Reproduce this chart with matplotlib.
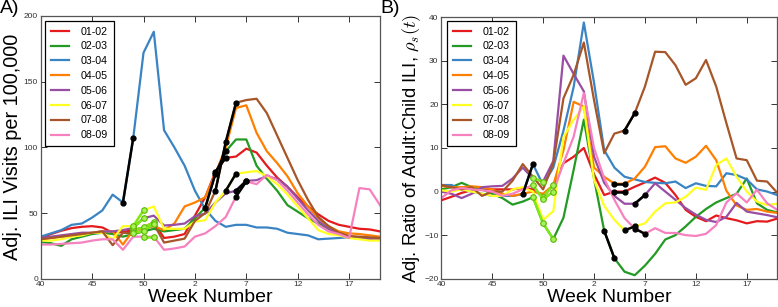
import matplotlib
matplotlib.use('Agg')
import matplotlib.pyplot as plt

plt.rcParams['font.family'] = ['Liberation Sans', 'DejaVu Sans']
plt.rcParams['mathtext.fontset'] = 'cm'

# ---------------- data ----------------
week_labels = ['40', '45', '50', '2', '7', '12', '17']
week_ticks = [0, 5, 10, 15, 20, 25, 30]
seasons = ['01-02', '02-03', '03-04', '04-05', '05-06', '06-07', '07-08', '08-09']

# Panel A: Adj. ILI visits per 100,000 (week index 0 = week 40)
ili_0102 = [31, 34, 36.5, 38.5, 39.5, 40, 39, 35, 35.5, 37, 39, 43, 31, 32, 34, 48, 62, 81.5, 92, 93, 99, 96, 86, 77, 70, 62, 55, 49, 44, 41, 39.5, 38, 37.5, 36]
ili_0203 = [28, 27, 25, 30, 32, 34, 35, 34, 32, 34, 36, 38, 36, 37, 38, 46, 54, 80, 97, 106, 106, 86, 76, 67, 56, 51, 46, 42, 38, 35, 32, 31, 30, 30]
ili_0304 = [32, 34.5, 37, 41, 42, 46.5, 52, 64, 58, 107, 172, 188, 113, 100, 86, 67, 53, 44, 39.5, 41, 41, 39, 39, 38, 35, 34, 33, 30, 30.5, 31, 31.5, 31.5, 30.5, 30.5]
ili_0405 = [30, 31, 32, 33, 34, 35, 36, 36, 26, 37, 38, 40, 37, 42, 55, 58, 62, 80, 100, 130, 132, 111, 97, 88, 78, 65, 55, 46, 40, 36, 34.5, 34, 33, 32]
ili_0506 = [31, 32, 33, 34, 35, 35, 36, 36, 37, 38.6, 46, 48, 40.5, 41, 42, 47.5, 49.5, 58, 65, 67, 74.5, 75, 78, 76, 70, 61, 52, 44, 38, 34, 31.5, 30.5, 30, 30]
ili_0607 = [29, 29, 30, 32, 33, 35, 35, 30, 40, 40, 52, 55, 38, 38, 38, 43.5, 44.5, 58, 67, 80, 81, 82, 78, 72, 64, 55, 46, 37, 34, 33, 31, 30, 29, 29]
ili_0708 = [30, 31, 32, 33, 34, 35, 36, 25.5, 35, 34.5, 36.5, 41.7, 27.5, 29, 30.5, 44, 50, 67, 104, 134, 136, 137, 126, 109, 92, 75, 60, 47, 40, 35, 32.5, 32, 31.5, 31]
ili_0809 = [26, 26, 26.5, 27, 27.5, 29, 30, 30, 22, 32, 32, 32, 22, 23, 24.5, 32, 34.5, 40, 47, 62.5, 74, 72, 79, 75, 67, 58, 49, 41, 36, 34, 31, 69, 68, 56]

# Panel B: Adj. ratio of adult:child ILI
ratio_0102 = [-2, -1.2, -0.3, 0.3, 0.5, 0.5, 0.5, 0.5, 0.8, 0.5, -1.2, 1.5, 6.5, 8, 10, 4, -0.8, 0, 0, 1.1, 2.1, 3.2, 2, -0.8, -4.2, -5.8, -6.8, -5.5, -6.1, -6.6, -7.3, -6.8, -6.9, -6.2]
ratio_0203 = [0.5, 1, 2, 1, 0.5, -0.5, -1.5, -3, -2.3, -1.3, -7.3, -10.9, -6, 5, 16.5, 3, -9, -15.3, -18.4, -19.2, -17, -14.3, -11, -10, -8, -5.8, -4, -2.5, -1.5, -0.5, 3, -2.7, -4.2, -4.8]
ratio_0304 = [1.5, 1.5, 0.5, 0, -0.5, -1, -1, -1, -0.6, 6.3, 1.5, 5.5, 14, 24, 38.8, 25, 9.5, 5.5, 3.4, 2.8, 2.2, 2.0, 1.9, 2.3, 0.8, 1.9, 1.3, 1.2, 4.2, 3.8, 2.8, 0.5, 0, -0.8]
ratio_0405 = [1.3, 1, 1, 1.2, 1, 0.5, -0.5, -1, -0.5, 0, -0.5, 1.5, 9.5, 20.6, 19.5, 5.5, 3.4, 1.8, 1.8, 3, 5.7, 10.2, 10.4, 7.6, 6.6, 8, 10.5, 7.2, 0.2, -3.2, -4.2, -4, -4.6, -4.9]
ratio_0506 = [0, -0.5, -1.5, -0.5, 1, 1.2, 1.3, 3, 5.5, 3, 2.3, 7, 31.2, 27, 23, 8, 2, -1, -2.8, -2.8, -0.8, 1.9, 0, -1.9, -3.8, -5.3, -6.5, -7, -5.8, -2.6, -4.6, -5, -5.4, -5.9]
ratio_0607 = [0.3, 0, 0.5, 0, -0.5, -1, -1, 0.5, 1, 0, -6.5, -4.5, 12.5, 16.5, 19.5, 2.7, -3.3, -6.5, -8.9, -8, -7.3, -4.6, -2.7, -2.5, -1.2, 0.9, 0.4, 6.1, 7.6, 3.4, 0, -2.3, -3.1, -2.8]
ratio_0708 = [1.5, 1, 0.5, 1, -1, 0, 0, 2.5, 6.3, 3.4, 0.5, 6.5, 21.4, 26.8, 34.2, 21, 8.8, 13.3, 14, 18, 24.1, 32.1, 32, 29, 24.5, 26, 30.2, 24.1, 15.7, 7.6, 7.2, 2.5, 2.3, -0.3]
ratio_0809 = [-1.5, 0.3, 0.8, 0.5, 0.3, 0, -1, -0.5, 0.5, 1.5, -1.8, 0, 6.5, 12.6, 22.6, 10, 3, -1.9, -6.1, -8.5, -9.7, -8.4, -9.5, -9.5, -10, -10.2, -9.7, -7.7, -2.5, -0.4, -2.5, 0.4, -2.7, -4.2]

# highlighted week-index ranges (black: growth phase, green: holiday weeks)
black_A = {'01-02': (17, 18), '02-03': (16, 18), '03-04': (8, 9), '05-06': (19, 20),
           '06-07': (18, 19), '07-08': (17, 19), '08-09': (19, 20)}
green_A = {'01-02': (9, 11), '05-06': (9, 10), '06-07': (9, 10), '07-08': (9, 11), '08-09': (10, 11)}
black_B = {'01-02': (17, 18), '02-03': (16, 17), '03-04': (8, 9), '04-05': (17, 18),
           '05-06': (19, 20), '06-07': (18, 19), '07-08': (18, 19), '08-09': (19, 20)}
green_B = {'01-02': (10, 11), '02-03': (9, 11), '05-06': (9, 10), '08-09': (9, 11)}

colors = ['#e41a1c', '#239a23', '#3a84c4', '#ff7f00', '#984ea3', '#ffff22', '#a65628', '#f781bf']

series_A = [ili_0102, ili_0203, ili_0304, ili_0405, ili_0506, ili_0607, ili_0708, ili_0809]
series_B = [ratio_0102, ratio_0203, ratio_0304, ratio_0405, ratio_0506, ratio_0607, ratio_0708, ratio_0809]

fig = plt.figure(figsize=(7.78, 3.07), dpi=100)
axA = fig.add_axes([0.0523, 0.0922, 0.4361, 0.8557])
axB = fig.add_axes([0.5672, 0.0922, 0.4319, 0.8515])


def draw(ax, series, black, green, ylim, yticks, legend_anchor):
    for name, vals, c in zip(seasons, series, colors):
        ax.plot(range(len(vals)), vals, color=c, lw=1.6, label=name, zorder=2)
    for name, vals in zip(seasons, series):
        if name in black:
            a, b = black[name]
            ax.plot(range(a, b + 1), vals[a:b + 1], color='black', lw=1.8,
                    marker='o', ms=3.5, zorder=4)
        if name in green:
            a, b = green[name]
            ax.plot(range(a, b + 1), vals[a:b + 1], color='#7ee81a', lw=1.8,
                    marker='o', ms=4, mfc='#a6f25a', mec='#5cb800', mew=0.8, zorder=5)
    ax.set_xlim(0, 33)
    ax.set_ylim(*ylim)
    ax.set_yticks(yticks)
    ax.set_xticks(week_ticks)
    ax.set_xticklabels(week_labels)
    ax.tick_params(direction='in', top=True, right=True, length=4, width=0.7,
                   labelsize=6, colors='#333333', pad=2)
    for s in ax.spines.values():
        s.set_color('#555555')
        s.set_linewidth(0.9)
    ax.set_xlabel('Week Number', fontsize=14, labelpad=0.5)
    leg = ax.legend(loc='upper left', bbox_to_anchor=legend_anchor, borderaxespad=0,
                    fontsize=7.7, handlelength=1.7, handletextpad=1.1,
                    labelspacing=0.45, borderpad=0.55, fancybox=False,
                    framealpha=1, edgecolor='black')
    leg.get_frame().set_linewidth(0.9)


draw(axA, series_A, black_A, green_A, (0, 200), [0, 50, 100, 150, 200], (0.013, 0.982))
axA.set_ylabel('Adj. ILI Visits per 100,000', fontsize=14.3, labelpad=1)

draw(axB, series_B, black_B, green_B, (-20, 40), [-20, -10, 0, 10, 20, 30, 40], (0.017, 0.987))
axB.set_ylabel(r'Adj. Ratio of Adult:Child ILI, $\rho_s(t)$', fontsize=13.3, labelpad=1)

fig.text(0.0, 1.0, 'A)', fontsize=14, va='top', ha='left')
fig.text(0.489, 1.0, 'B)', fontsize=14, va='top', ha='left')

fig.savefig('out.png', dpi=100)
